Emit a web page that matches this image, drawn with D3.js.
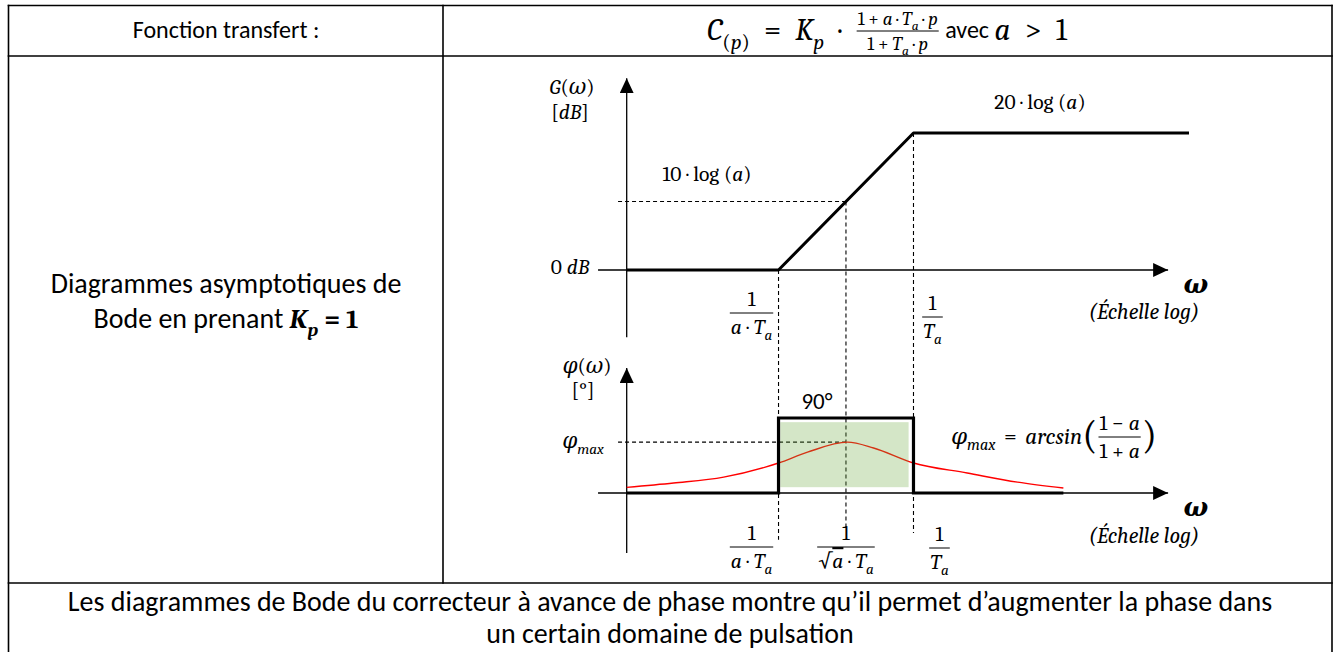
<!DOCTYPE html>
<html>
<head>
<meta charset="utf-8">
<script src="https://cdn.jsdelivr.net/npm/d3@7"></script>
<style>
    body { margin: 0; background: #fff; }
    svg { display: block; }
</style>
</head>
<body>
<div id="chart"></div>
<script>
// Bode du correcteur à avance de phase, tracé avec Ta = 1 et a = 10
const omegaDomain = [0.0075, 110];          // pulsations extrêmes de l'échelle log
const omegaAxis = [0.0046, 77];             // début / pointe de flèche de l'axe ω
const breakW = [0.1, 0.316, 1];             // 1/(a·Ta), 1/(√a·Ta), 1/Ta

const gainW = [0.0075, 0.1, 1, 110];
const gainDb = [0, 0, 20, 20];
const gainAxisDb = [-9.8, 28];
const halfDb = 10;                          // 10·log(a)

const stepW = [0.0075, 0.1, 0.1, 1, 1, 12.9];
const stepDeg = [0, 0, 90, 90, 0, 0];
const realW = [0.0075, 0.0167, 0.0392, 0.1, 0.164, 0.324, 0.506, 1, 2.5, 5.9, 12.9];
const realDeg = [6.8, 12, 19, 36, 49, 61, 54, 36, 24, 13, 6];
const phiMax = 61;
const zoneW = [0.103, 0.92];
const zoneDeg = [7, 85];
const phaseAxisDeg = [-72, 150];
const guideLowDeg = [-56, -42, -48];        // bas des pointillés verticaux

const W = 1341, H = 652;
const SANS = "Carlito, Calibri, Lato, 'Noto Sans', sans-serif";
const SERIF = "'Cambria Math', Cambria, 'DejaVu Serif', serif";
const TH = "\u2009";

const svg = d3.select("#chart").append("svg")
    .attr("width", W)
    .attr("height", H);

// Table
const colX = [8.5, 443, 1332];
const rowY = [5.5, 56, 583, 665];
const grid = svg.append("g")
    .attr("stroke", "#000")
    .attr("stroke-width", 1.6)
    .attr("stroke-linecap", "square");
rowY.forEach(y => grid.append("line")
    .attr("x1", colX[0]).attr("x2", colX[2]).attr("y1", y).attr("y2", y));
[colX[0], colX[2]].forEach(x => grid.append("line")
    .attr("x1", x).attr("x2", x).attr("y1", rowY[0]).attr("y2", rowY[3]));
grid.append("line")
    .attr("x1", colX[1]).attr("x2", colX[1]).attr("y1", rowY[0]).attr("y2", rowY[2]);

// text helpers
function rich(g, parts, font, size) {
    const t = g.append("text")
        .attr("font-family", font)
        .attr("font-size", size)
        .attr("fill", "#000")
        .style("white-space", "pre");
    let shift = 0;
    parts.forEach(([s, f]) => {
        f = f || "";
        const sub = f.includes("s") ? size * 0.28 : 0;
        const ts = t.append("tspan").text(s);
        if (f.includes("i")) ts.attr("font-style", "italic");
        if (f.includes("b")) ts.attr("font-weight", "bold");
        if (f.includes("o")) ts.style("text-decoration", "overline");
        if (f.includes("s")) ts.attr("font-size", size * 0.7);
        if (sub !== shift) { ts.attr("dy", sub - shift); shift = sub; }
    });
    return t;
}

// lays out text pieces and fractions side by side, centred on (cx, cy);
// with a target width, the slack is shared between the {gap} items
function mathRow(cx, cy, items, target) {
    const g = svg.append("g");
    items.forEach(it => {
        if (it.gap) { it.w = 0; return; }
        it.g = g.append("g");
        if (it.frac) {
            const n = rich(it.g, it.frac[0], it.font, it.size)
                .attr("text-anchor", "middle").attr("y", -it.size * 0.32);
            const d = rich(it.g, it.frac[1], it.font, it.size)
                .attr("text-anchor", "middle").attr("y", it.size * 0.98);
            it.w = Math.max(n.node().getComputedTextLength(), d.node().getComputedTextLength()) + 4;
            it.g.append("line")
                .attr("x1", -it.w / 2 + 1).attr("x2", it.w / 2 - 1)
                .attr("stroke", "#000").attr("stroke-width", 1);
        } else {
            const t = rich(it.g, it.parts, it.font, it.size)
                .attr("y", it.size * 0.3 + (it.dy || 0));
            it.w = t.node().getComputedTextLength();
        }
    });
    const gaps = items.filter(d => d.gap);
    if (target && gaps.length) {
        const slack = Math.max(0, target - d3.sum(items, d => d.w));
        gaps.forEach(d => d.w = slack / gaps.length);
    }
    let x = cx - d3.sum(items, d => d.w) / 2;
    items.forEach(it => {
        if (it.g) it.g.attr("transform", `translate(${it.frac ? x + it.w / 2 : x},${cy})`);
        x += it.w;
    });
    return g;
}

// fit the sans size on the long caption line
const probe = rich(svg, [["Les diagrammes de Bode du correcteur à avance de phase montre qu’il permet d’augmenter la phase dans"]], SANS, 24);
const sansSize = 24 * 1205 / probe.node().getComputedTextLength();
probe.remove();

// Row 1
mathRow(226, 31, [{parts: [["Fonction transfert :"]], font: SANS, size: sansSize * 0.86}]);
const MS = 31;
mathRow(887, 31, [
    {parts: [["C", "i"], ["(", "s"], ["p", "is"], [")", "s"]], font: SERIF, size: MS},
    {gap: true},
    {parts: [["="]], font: SERIF, size: MS},
    {gap: true},
    {parts: [["K", "i"], ["p", "is"]], font: SERIF, size: MS},
    {gap: true},
    {parts: [["·"]], font: SERIF, size: MS},
    {gap: true},
    {frac: [[["1" + TH + "+" + TH], ["a", "i"], [TH + "·" + TH], ["T", "i"], ["a", "is"], [TH + "·" + TH], ["p", "i"]],
            [["1" + TH + "+" + TH], ["T", "i"], ["a", "is"], [TH + "·" + TH], ["p", "i"]]], font: SERIF, size: 19},
    {parts: [[" avec "]], font: SANS, size: sansSize * 0.86},
    {parts: [["a", "i"]], font: SERIF, size: MS},
    {gap: true},
    {parts: [[">"]], font: SERIF, size: MS},
    {gap: true},
    {parts: [["1"]], font: SERIF, size: MS}
], 360);

// Row 2, left cell
mathRow(226, 285, [{parts: [["Diagrammes asymptotiques de"]], font: SANS, size: sansSize}]);
mathRow(226, 320, [
    {parts: [["Bode en prenant "]], font: SANS, size: sansSize},
    {parts: [["K", "ib"], ["p", "ibs"], [" = 1", "b"]], font: SERIF, size: 27}
]);

// Row 3
mathRow(670, 603, [{parts: [["Les diagrammes de Bode du correcteur à avance de phase montre qu’il permet d’augmenter la phase dans"]], font: SANS, size: sansSize}]);
mathRow(670, 635, [{parts: [["un certain domaine de pulsation"]], font: SANS, size: sansSize}]);

// Scales
const x = d3.scaleLog().domain(omegaDomain).range([626.7, 1189]);
const yG = d3.scaleLinear().domain([0, 20]).range([270, 133]);
const yP = d3.scaleLinear().domain([0, 90]).range([493, 418]);

svg.append("defs").append("marker")
    .attr("id", "arrow")
    .attr("viewBox", "0 0 15 14")
    .attr("refX", 15).attr("refY", 7)
    .attr("markerWidth", 15).attr("markerHeight", 14)
    .attr("markerUnits", "userSpaceOnUse")
    .attr("orient", "auto")
    .append("path").attr("d", "M0,0L15,7L0,14Z").attr("fill", "#000");

// dashed guides
const guides = svg.append("g")
    .attr("stroke", "#000").attr("stroke-width", 1.1)
    .attr("stroke-dasharray", "4,3").attr("fill", "none");
guides.append("line")
    .attr("x1", x(omegaAxis[0]) + 20).attr("x2", x(breakW[1]))
    .attr("y1", yG(halfDb)).attr("y2", yG(halfDb));
guides.append("line")
    .attr("x1", x(omegaAxis[0]) + 20).attr("x2", x(breakW[1]))
    .attr("y1", yP(phiMax)).attr("y2", yP(phiMax));
const guideTop = [yG(0), yG(halfDb), yG(20)];
breakW.forEach((w, i) => guides.append("line")
    .attr("x1", x(w)).attr("x2", x(w))
    .attr("y1", guideTop[i]).attr("y2", yP(guideLowDeg[i])));

// axes
const axes = svg.append("g").attr("stroke", "#000").attr("stroke-width", 1.3);
axes.append("line")
    .attr("x1", x(omegaDomain[0])).attr("x2", x(omegaDomain[0]))
    .attr("y1", yG(gainAxisDb[0])).attr("y2", yG(gainAxisDb[1]))
    .attr("marker-end", "url(#arrow)");
axes.append("line")
    .attr("x1", x(omegaAxis[0])).attr("x2", x(omegaAxis[1]))
    .attr("y1", yG(0)).attr("y2", yG(0))
    .attr("marker-end", "url(#arrow)");
axes.append("line")
    .attr("x1", x(omegaDomain[0])).attr("x2", x(omegaDomain[0]))
    .attr("y1", yP(phaseAxisDeg[0])).attr("y2", yP(phaseAxisDeg[1]))
    .attr("marker-end", "url(#arrow)");
axes.append("line")
    .attr("x1", x(omegaAxis[0])).attr("x2", x(omegaAxis[1]))
    .attr("y1", yP(0)).attr("y2", yP(0))
    .attr("marker-end", "url(#arrow)");

// real phase curve (red) under the green zone
svg.append("path")
    .datum(d3.zip(realW, realDeg))
    .attr("fill", "none").attr("stroke", "#ff0000").attr("stroke-width", 1.4)
    .attr("d", d3.line().x(d => x(d[0])).y(d => yP(d[1])).curve(d3.curveMonotoneX));

svg.append("rect")
    .attr("x", x(zoneW[0])).attr("width", x(zoneW[1]) - x(zoneW[0]))
    .attr("y", yP(zoneDeg[1])).attr("height", yP(zoneDeg[0]) - yP(zoneDeg[1]))
    .attr("fill", "#70ad47").attr("fill-opacity", 0.3);

// asymptotes
svg.append("path")
    .datum(d3.zip(stepW, stepDeg))
    .attr("fill", "none").attr("stroke", "#000").attr("stroke-width", 3.2)
    .attr("d", d3.line().x(d => x(d[0])).y(d => yP(d[1])));
svg.append("path")
    .datum(d3.zip(gainW, gainDb))
    .attr("fill", "none").attr("stroke", "#000").attr("stroke-width", 3)
    .attr("stroke-linejoin", "round")
    .attr("d", d3.line().x(d => x(d[0])).y(d => yG(d[1])));

// labels
const LS = 21.5;
mathRow(572, 88, [{parts: [["G", "i"], ["("], ["ω", "i"], [")"]], font: SERIF, size: LS}]);
mathRow(570, 113, [{parts: [["["], ["dB", "i"], ["]"]], font: SERIF, size: LS}]);
mathRow(570, 268, [{parts: [["0 "], ["dB", "i"]], font: SERIF, size: LS}]);
mathRow(707, 175, [{parts: [["10 · log ("], ["a", "i"], [")"]], font: SERIF, size: LS}]);
mathRow(1040, 103, [{parts: [["20 · log ("], ["a", "i"], [")"]], font: SERIF, size: LS}]);

mathRow(587, 367, [{parts: [["φ", "i"], ["("], ["ω", "i"], [")"]], font: SERIF, size: LS}]);
mathRow(583, 391, [{parts: [["[°]"]], font: SERIF, size: LS}]);
mathRow(583, 442, [{parts: [["φ", "i"], ["max", "is"]], font: SERIF, size: LS}]);
mathRow(x(breakW[1]) - 29, 402, [{parts: [["90°"]], font: SANS, size: sansSize * 0.82}]);

mathRow(1054, 437, [
    {parts: [["φ", "i"], ["max", "is"]], font: SERIF, size: 23},
    {gap: true},
    {parts: [["="]], font: SERIF, size: 23},
    {gap: true},
    {parts: [["arcsin", "i"]], font: SERIF, size: 23},
    {parts: [["("]], font: SERIF, size: 40, dy: -1},
    {frac: [[["1 − "], ["a", "i"]], [["1 + "], ["a", "i"]]], font: SERIF, size: LS},
    {parts: [[")"]], font: SERIF, size: 40, dy: -1}
], 206);

[285, 508].forEach(cy => {
    mathRow(1196, cy, [{parts: [["ω", "ib"]], font: SERIF, size: 26}]);
});
[312, 536].forEach(cy => {
    mathRow(1144, cy, [{parts: [["(Échelle log)", "i"]], font: SERIF, size: 22}]);
});

const fracATa = [[["1"]], [["a", "i"], [" · "], ["T", "i"], ["a", "is"]]];
const fracTa = [[["1"]], [["T", "i"], ["a", "is"]]];
const fracSqrt = [[["1"]], [["√"], ["a", "io"], [" · "], ["T", "i"], ["a", "is"]]];
mathRow(x(breakW[0]) - 27, 313, [{frac: fracATa, font: SERIF, size: LS}]);
mathRow(x(breakW[2]) + 19, 317, [{frac: fracTa, font: SERIF, size: LS}]);
mathRow(x(breakW[0]) - 27, 547, [{frac: fracATa, font: SERIF, size: LS}]);
mathRow(x(breakW[1]), 547, [{frac: fracSqrt, font: SERIF, size: LS}]);
mathRow(x(breakW[2]) + 26, 548, [{frac: fracTa, font: SERIF, size: LS}]);
</script>
</body>
</html>
